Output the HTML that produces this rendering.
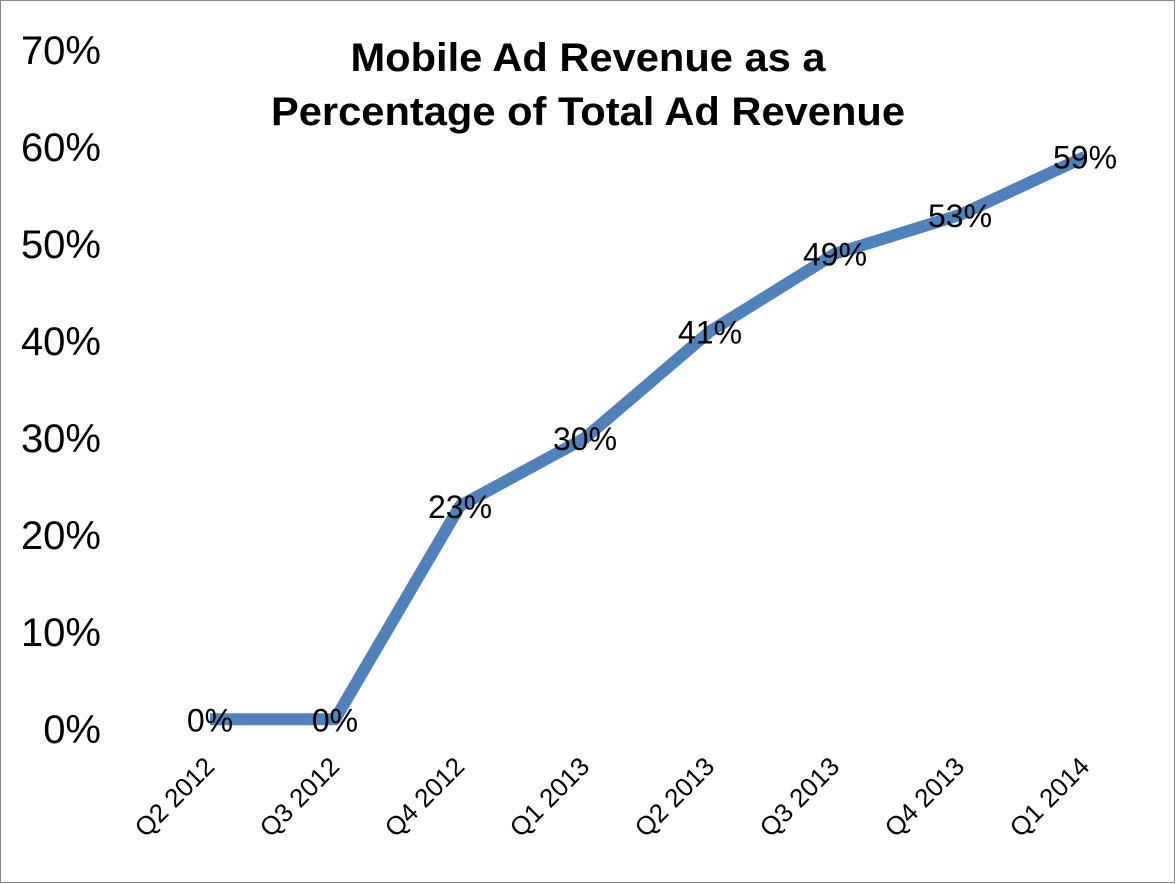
<!DOCTYPE html>
<html><head><meta charset="utf-8"><style>
html,body{margin:0;padding:0;background:#fff;}
svg{display:block;font-family:"Liberation Sans",sans-serif;}
</style></head><body>
<svg id="chart" width="1176" height="884">
<rect x="0.5" y="0.5" width="1174" height="882" fill="#fff" stroke="#888"/>
<text x="588" y="71" text-anchor="middle" font-size="40" font-weight="bold" textLength="475" lengthAdjust="spacingAndGlyphs">Mobile Ad Revenue as a</text>
<text x="588" y="125" text-anchor="middle" font-size="40" font-weight="bold" textLength="634" lengthAdjust="spacingAndGlyphs">Percentage of Total Ad Revenue</text>
<g id="yaxis"></g><g id="xaxis"></g><g id="series"></g>
</svg>
<script>
const categories=["Q2 2012","Q3 2012","Q4 2012","Q1 2013","Q2 2013","Q3 2013","Q4 2013","Q1 2014"];
const values=[1,1,23,30,41,49,53,59];
const valueLabels=["0%","0%","23%","30%","41%","49%","53%","59%"];
const yTicks=[0,10,20,30,40,50,60,70];
const NS="http://www.w3.org/2000/svg";
const y0=729,pxPer=9.7,x0=210,dx=125;
const ys=v=>y0-v*pxPer, xs=i=>x0+i*dx;
function mk(t,a,p){const e=document.createElementNS(NS,t);for(const k in a)e.setAttribute(k,a[k]);p.appendChild(e);return e;}
const ya=document.getElementById('yaxis');
yTicks.forEach(t=>{const e=mk('text',{x:101,y:ys(t)+14,'text-anchor':'end','font-size':40},ya);e.textContent=t+'%';

});
const xa=document.getElementById('xaxis');
categories.forEach((c,i)=>{const x=xs(i)+6,y=768;const e=mk('text',{x:x,y:y,'text-anchor':'end','font-size':26,transform:`rotate(-45 ${x} ${y})`},xa);e.textContent=c;

});
const s=document.getElementById('series');
const pl=mk('polyline',{points:values.map((v,i)=>xs(i)+','+ys(v)).join(' '),fill:'none',stroke:'#4f81bd','stroke-width':12,'stroke-linejoin':'round'},s);


values.forEach((v,i)=>{const e=mk('text',{x:xs(i),y:ys(v)+12,'text-anchor':'middle','font-size':32},s);e.textContent=valueLabels[i];

});
</script>
</body></html>
